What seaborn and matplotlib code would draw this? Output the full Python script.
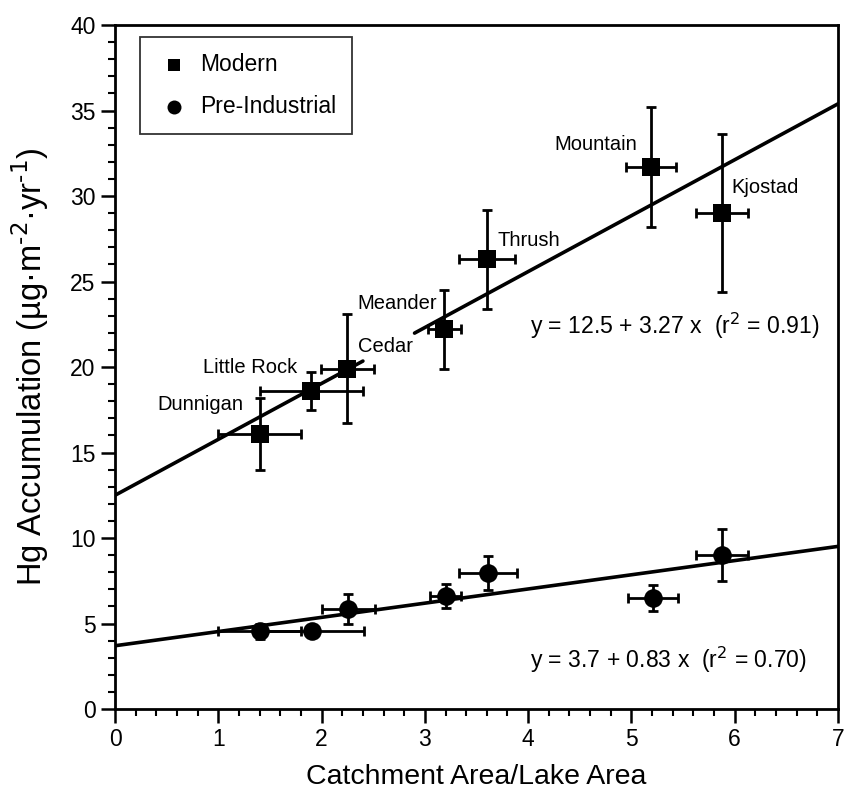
import numpy as np
import pandas as pd
import matplotlib
matplotlib.use("Agg")
import matplotlib.pyplot as plt
import seaborn as sns

# ---- data ----
lakes = ["Dunnigan", "Little Rock", "Cedar", "Meander", "Thrush", "Mountain", "Kjostad"]
ratio = [1.40, 1.90, 2.25, 3.19, 3.60, 5.19, 5.88]
ratio_err = [0.40, 0.50, 0.26, 0.16, 0.27, 0.24, 0.25]
modern = [16.1, 18.6, 19.9, 22.2, 26.3, 31.7, 29.0]
modern_err = [2.1, 1.1, 3.2, 2.3, 2.9, 3.5, 4.6]
pre_x = [1.40, 1.91, 2.26, 3.20, 3.61, 5.21, 5.88]
pre_x_err = [0.40, 0.50, 0.26, 0.15, 0.28, 0.24, 0.25]
pre = [4.55, 4.55, 5.85, 6.6, 7.95, 6.5, 9.0]
pre_err = [0.45, 0.15, 0.85, 0.7, 1.0, 0.75, 1.5]

fit_modern = (12.5, 3.27, 0.91)
fit_pre = (3.7, 0.83, 0.70)
modern_segments = [(0.0, 2.4), (2.9, 7.0)]
pre_segments = [(0.0, 7.0)]

x_ticks = [0, 1, 2, 3, 4, 5, 6, 7]
y_ticks = [0, 5, 10, 15, 20, 25, 30, 35, 40]

# label offsets (data units) for lake names
label_pos = {
    "Dunnigan": (-0.16, 1.7, "right"),
    "Little Rock": (-0.14, 1.4, "right"),
    "Cedar": (0.10, 1.3, "left"),
    "Meander": (-0.07, 1.5, "right"),
    "Thrush": (0.10, 1.1, "left"),
    "Mountain": (-0.13, 1.3, "right"),
    "Kjostad": (0.09, 1.5, "left"),
}

sns.set_theme(style="ticks")
plt.rcParams['font.family'] = ['Liberation Sans', 'DejaVu Sans']
plt.rcParams['text.color'] = 'black'
plt.rcParams['axes.labelcolor'] = 'black'

fig = plt.figure(figsize=(8.46, 7.97), dpi=100)
ax = fig.add_axes([0.136, 0.1104, 0.8545, 0.8582])

df_m = pd.DataFrame({"x": ratio, "y": modern, "group": "Modern"})
df_p = pd.DataFrame({"x": pre_x, "y": pre, "group": "Pre-Industrial"})

# regression lines
for (a, b, r2), segs in [(fit_modern, modern_segments), (fit_pre, pre_segments)]:
    for s0, s1 in segs:
        xs = np.array([s0, s1])
        ax.plot(xs, a + b * xs, color="black", lw=2.6, zorder=2)

# error bars
ax.errorbar(ratio, modern, xerr=ratio_err, yerr=modern_err, fmt="none",
            ecolor="black", elinewidth=2.0, capsize=3.5, capthick=2.0, zorder=3)
ax.errorbar(pre_x, pre, xerr=pre_x_err, yerr=pre_err, fmt="none",
            ecolor="black", elinewidth=2.0, capsize=3.5, capthick=2.0, zorder=3)

sns.scatterplot(data=df_m, x="x", y="y", marker="s", s=150, color="black",
                edgecolor="black", linewidth=0, ax=ax, zorder=4, label="Modern")
sns.scatterplot(data=df_p, x="x", y="y", marker="o", s=180, color="black",
                edgecolor="black", linewidth=0, ax=ax, zorder=4, label="Pre-Industrial")

for name, xv, yv in zip(lakes, ratio, modern):
    dx, dy, ha = label_pos[name]
    ax.text(xv + dx, yv + dy, name, fontsize=14.5, ha=ha, va="center", color="black")

ax.text(4.02, 22.4, "y = 12.5 + 3.27 x  (r$^{2}$ = 0.91)", fontsize=16.6,
        ha="left", va="center", color="black")
ax.text(4.02, 2.9, "y = 3.7 + 0.83 x  (r$^{2}$ = 0.70)", fontsize=16.6,
        ha="left", va="center", color="black")

ax.set_xlim(0, 7)
ax.set_ylim(0, 40)
ax.set_xticks(x_ticks)
ax.set_yticks(y_ticks)
ax.set_xticks(np.arange(0, 7.01, 0.2), minor=True)
ax.set_yticks(np.arange(0, 40.1, 1), minor=True)
ax.tick_params(axis="both", which="major", direction="out", length=10, width=1.8,
               labelsize=16.5, color="black", labelcolor="black", pad=4)
ax.tick_params(axis="both", which="minor", direction="out", length=5, width=1.5,
               color="black")
ax.tick_params(top=False, right=False, which="both")
for sp in ax.spines.values():
    sp.set_visible(True)
    sp.set_color("black")
    sp.set_linewidth(2.0)

ax.set_xlabel("Catchment Area/Lake Area", fontsize=20.5, labelpad=9, color="black")
ax.set_ylabel("Hg Accumulation (µg·m$^{\\text{-2}}$·yr$^{\\text{-1}}$)", fontsize=23.5,
              labelpad=14, color="black")

leg = ax.legend(loc="upper left", bbox_to_anchor=(0.0346, 0.982), fontsize=16.5,
                frameon=True, fancybox=False, edgecolor="black", borderpad=0.7,
                borderaxespad=0, labelspacing=0.8, handletextpad=0.3,
                handlelength=1.6, markerscale=0.75)
leg.get_frame().set_linewidth(1.3)
for t in leg.get_texts():
    t.set_color("black")

fig.savefig("out.png", dpi=100, facecolor="white")
